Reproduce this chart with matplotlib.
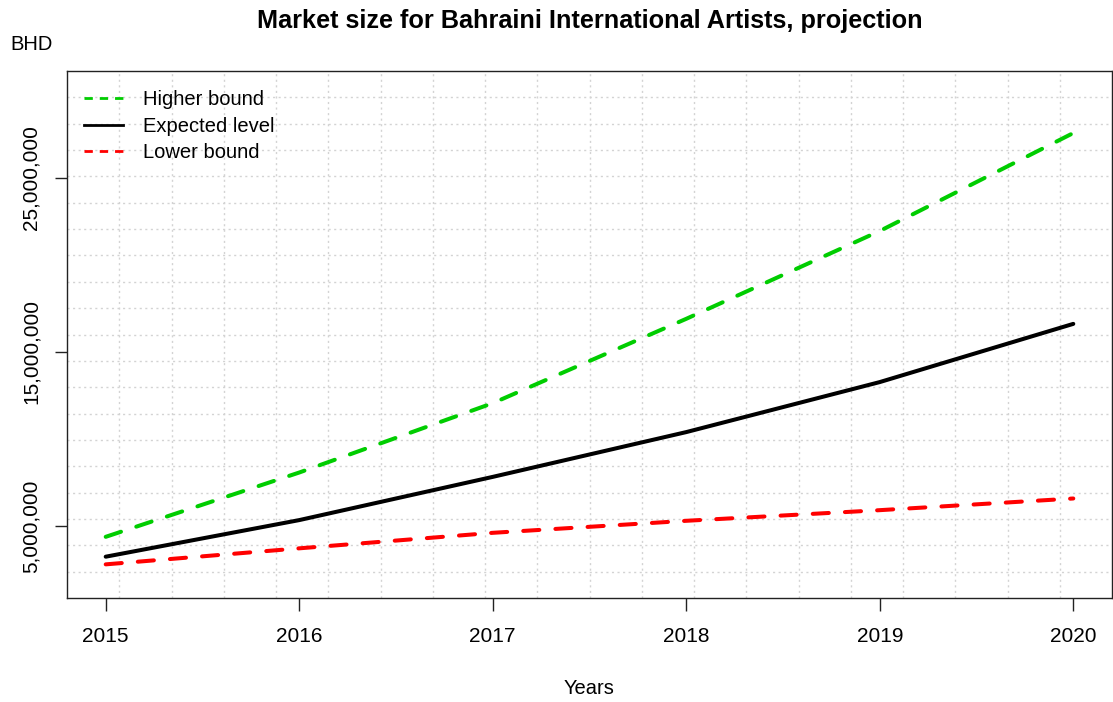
import numpy as np
import matplotlib
matplotlib.use("Agg")
import matplotlib.pyplot as plt
from matplotlib.lines import Line2D

plt.rcParams["font.family"] = ["Liberation Sans", "DejaVu Sans"]

# projected market size in BHD
years = [2015, 2016, 2017, 2018, 2019, 2020]
higher_bound = [4.39e6, 8.08e6, 12.06e6, 16.9e6, 21.94e6, 27.56e6]
expected_level = [3.25e6, 5.35e6, 7.83e6, 10.4e6, 13.27e6, 16.61e6]
lower_bound = [2.81e6, 3.73e6, 4.62e6, 5.31e6, 5.92e6, 6.59e6]
y_ticks = [5e6, 15e6, 25e6]
y_tick_labels = ["5,000,000", "15,000,000", "25,000,000"]
series_labels = ["Higher bound", "Expected level", "Lower bound"]

GREEN = "#00CD00"
RED = "#FF0000"
W, H = 1113, 702

fig = plt.figure(figsize=(W / 100, H / 100), dpi=100)
ax = fig.add_axes([67 / W, (H - 598) / H, (1112 - 67) / W, (598 - 71) / H])

# R-style ranges: 4% padding around x data and a fixed ylim of 2M..30M
x0, x1 = min(years), max(years)
xpad = 0.04 * (x1 - x0)
ylo, yhi = 2e6, 30e6
ypad = 0.04 * (yhi - ylo)
ax.set_xlim(x0 - xpad, x1 + xpad)
ax.set_ylim(ylo - ypad, yhi + ypad)

# dotted grid, 20 equal cells each way
gx = np.linspace(x0 - xpad, x1 + xpad, 21)[1:-1]
gy = np.linspace(ylo - ypad, yhi + ypad, 21)[1:-1]
for g in gx:
    ax.axvline(g, color="#d3d3d3", lw=1.0, ls=(0, (1.5, 2.5)), zorder=0)
for g in gy:
    ax.axhline(g, color="#d3d3d3", lw=1.0, ls=(0, (1.5, 2.5)), zorder=0)

lw = 2.9
ax.plot(years, higher_bound, color=GREEN, lw=lw, dashes=(4, 4), dash_capstyle="round")
ax.plot(years, expected_level, color="black", lw=lw, solid_capstyle="round")
ax.plot(years, lower_bound, color=RED, lw=lw, dashes=(4, 4), dash_capstyle="round")

ax.set_xticks(years)
ax.set_xticklabels([str(y) for y in years])
ax.set_yticks(y_ticks)
ax.set_yticklabels(y_tick_labels, rotation=90, va="center")
ax.tick_params(axis="both", direction="out", length=9, width=1, color="#222222",
               labelsize=15, labelcolor="black")
ax.tick_params(axis="x", pad=12)
ax.tick_params(axis="y", pad=10)
for s in ax.spines.values():
    s.set_color("#222222")
    s.set_linewidth(1)

handles = [
    Line2D([], [], color=GREEN, lw=2, dashes=(3, 2.5)),
    Line2D([], [], color="black", lw=2),
    Line2D([], [], color=RED, lw=2, dashes=(3, 2.5)),
]
ax.legend(handles, series_labels, loc="upper left", frameon=False,
          fontsize=14.5, handlelength=1.9, handletextpad=1.0,
          labelspacing=0.37, borderaxespad=0, bbox_to_anchor=(0.009, 0.979))

fig.text(590 / W, 1 - 21 / H, "Market size for Bahraini International Artists, projection",
         ha="center", va="center", fontsize=18.2, fontweight="bold")
fig.text(10 / W, 1 - 45 / H, "BHD", ha="left", va="center", fontsize=14.5)
fig.text(589.5 / W, 1 - 688 / H, "Years", ha="center", va="center", fontsize=14.5)

fig.savefig("out.png", dpi=100)
